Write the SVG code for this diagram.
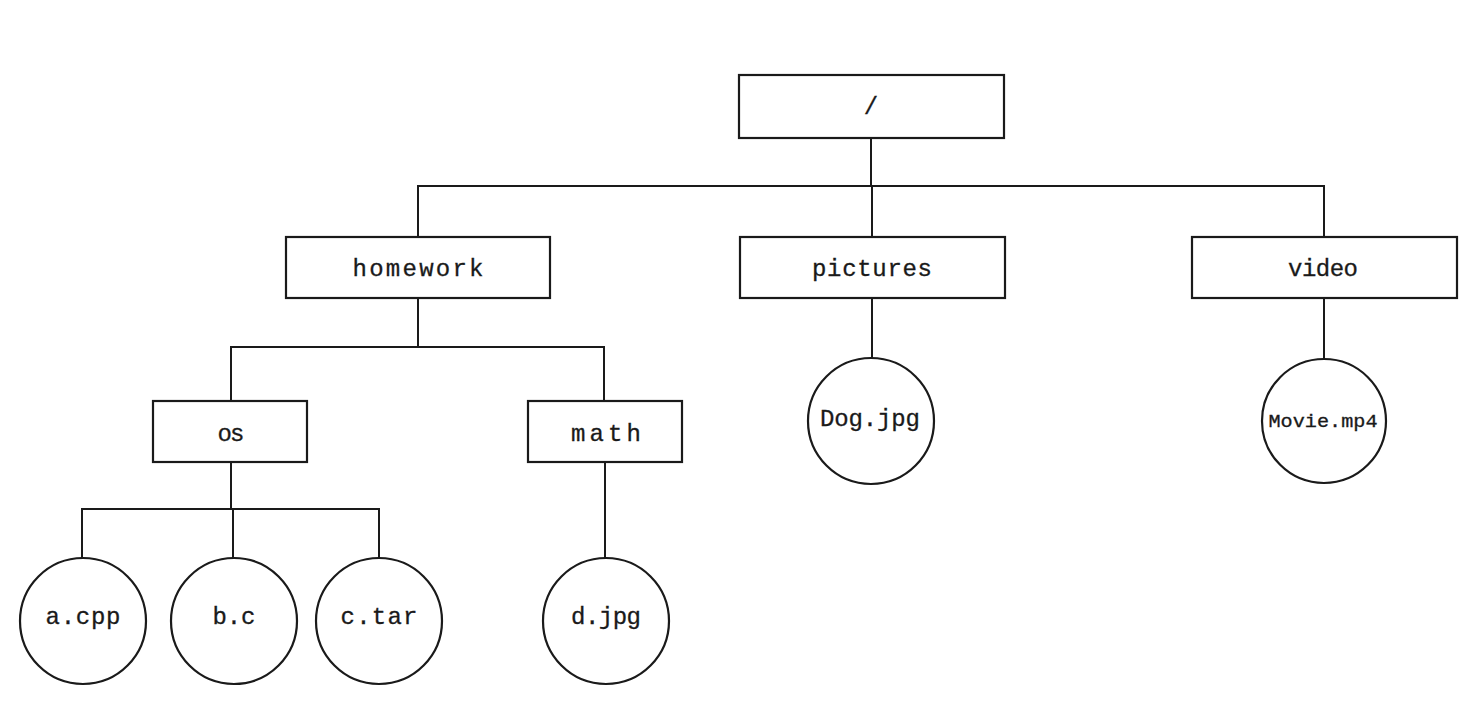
<svg xmlns="http://www.w3.org/2000/svg" width="1478" height="710" viewBox="0 0 1478 710">
<style>
.box{fill:#fff;stroke:#1a1a1a;stroke-width:2.2}
.leaf{fill:#fff;stroke:#1a1a1a;stroke-width:2.2}
.lbl{font-family:"Liberation Mono","DejaVu Sans Mono",monospace;font-size:24px;fill:#1a1a1a;text-anchor:middle;dominant-baseline:central;stroke:#1a1a1a;stroke-width:0.3}
.conn{fill:none;stroke:#1a1a1a;stroke-width:2}
</style>
<rect width="1478" height="710" fill="#fff"/>
<g id="connectors">
<path class="conn" d="M871 138V186M418 237V186H1324V237M872 186V237"/>
<path class="conn" d="M418 298V347M231 401V347H604V401"/>
<path class="conn" d="M231 462V509M82 558V509H379V558M233 509V558"/>
<path class="conn" d="M605 462V558"/>
<path class="conn" d="M872 298V358"/>
<path class="conn" d="M1324 298V358"/>
</g>
<g id="root"><rect class="box" x="739" y="75" width="265" height="63"/><text class="lbl" x="871" y="107">/</text></g>
<g id="homework"><rect class="box" x="286" y="237" width="264" height="61"/><text class="lbl" x="418" y="269" textLength="131" lengthAdjust="spacing">homework</text></g>
<g id="pictures"><rect class="box" x="740" y="237" width="265" height="61"/><text class="lbl" x="872" y="269" textLength="120" lengthAdjust="spacing">pictures</text></g>
<g id="video"><rect class="box" x="1192" y="237" width="265" height="61"/><text class="lbl" x="1323" y="269" textLength="70" lengthAdjust="spacing">video</text></g>
<g id="os"><rect class="box" x="153" y="401" width="154" height="61"/><text class="lbl" x="231" y="434" textLength="27" lengthAdjust="spacing">os</text></g>
<g id="math"><rect class="box" x="528" y="401" width="154" height="61"/><text class="lbl" x="606" y="434" textLength="70" lengthAdjust="spacing">math</text></g>
<g id="a_cpp"><circle class="leaf" cx="83" cy="621" r="63"/><text class="lbl" x="83" y="617" textLength="75" lengthAdjust="spacing">a.cpp</text></g>
<g id="b_c"><circle class="leaf" cx="234" cy="621" r="63"/><text class="lbl" x="234" y="617" textLength="43" lengthAdjust="spacing">b.c</text></g>
<g id="c_tar"><circle class="leaf" cx="379" cy="621" r="63"/><text class="lbl" x="379" y="617" textLength="77" lengthAdjust="spacing">c.tar</text></g>
<g id="d_jpg"><circle class="leaf" cx="606" cy="621" r="63"/><text class="lbl" x="606" y="617" textLength="70" lengthAdjust="spacing">d.jpg</text></g>
<g id="dog_jpg"><circle class="leaf" cx="871" cy="421" r="63"/><text class="lbl" x="870" y="419" textLength="100" lengthAdjust="spacing">Dog.jpg</text></g>
<g id="movie_mp4"><circle class="leaf" cx="1324" cy="421" r="62"/><text class="lbl" x="1323" y="422" style="font-size:18px" textLength="109" lengthAdjust="spacingAndGlyphs">Movie.mp4</text></g>
</svg>
